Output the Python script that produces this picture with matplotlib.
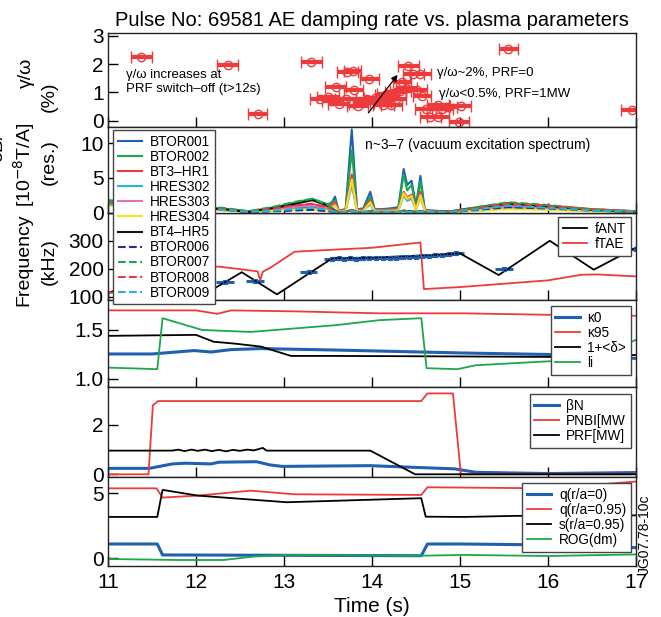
import matplotlib
matplotlib.use('Agg')
import matplotlib.pyplot as plt

plt.rcParams['font.family'] = ['Liberation Sans', 'DejaVu Sans']

# ---- panel 1: damping rate gamma/omega (%) ----
gam_t = [11.38, 12.36, 12.70, 13.31, 13.72, 13.78, 13.97, 13.59, 13.79, 14.41, 14.47, 14.55,
         14.34, 14.39, 14.51, 14.57, 13.41, 13.55, 13.70, 13.84, 13.94, 14.03, 14.13, 14.22,
         14.27, 14.18, 14.27, 14.32, 14.61, 14.75, 14.85, 15.01, 14.80, 14.66, 14.75, 14.99,
         15.55, 16.95, 13.50, 13.62, 13.90, 14.10, 14.15]
gam_v = [2.24, 1.98, 0.25, 2.09, 1.74, 1.76, 1.47, 1.19, 1.09, 1.94, 1.64, 1.64,
         1.38, 1.14, 1.09, 0.86, 0.76, 0.70, 0.76, 0.53, 0.76, 0.79, 0.55, 0.55,
         0.76, 0.94, 1.00, 1.05, 0.41, 0.55, 0.47, 0.53, 0.40, 0.12, 0.12, -0.05,
         2.55, 0.39, 0.85, 0.60, 0.62, 0.68, 0.90]
gam_err = [0.12, 0.12, 0.11, 0.12, 0.12, 0.10, 0.11, 0.12, 0.11, 0.12, 0.12, 0.12,
           0.10, 0.12, 0.12, 0.10, 0.12, 0.12, 0.12, 0.12, 0.12, 0.12, 0.12, 0.12,
           0.12, 0.12, 0.12, 0.12, 0.12, 0.12, 0.12, 0.12, 0.12, 0.12, 0.12, 0.11,
           0.11, 0.12, 0.12, 0.12, 0.12, 0.12, 0.12]

# ---- panel 2: dB/I amplitude spectra ----
t_db = [11.0, 11.5, 12.0, 12.3, 12.6, 12.9, 13.1, 13.32, 13.5, 13.58, 13.62, 13.7, 13.77,
        13.83, 13.9, 13.98, 14.03, 14.1, 14.2, 14.3, 14.36, 14.4, 14.45, 14.5, 14.55, 14.6,
        14.7, 14.9, 15.2, 15.55, 16.0, 16.5, 17.0]
btor001 = [1.8, 1.2, 0.8, 0.5, 0.1, 0.4, 0.6, 0.8, 0.5, 2.3, 0.3, 0.5, 12.0, 0.5, 0.6, 3.0, 0.5,
           0.5, 0.6, 0.8, 6.3, 4.0, 4.6, 1.0, 5.3, 0.4, 0.3, 0.1, 0.5, 0.8, 0.6, 0.3, 0.1]
btor002 = [1.6, 1.1, 0.8, 0.6, 0.2, 0.8, 1.4, 2.0, 1.2, 1.8, 0.2, 0.4, 9.0, 0.4, 0.5, 2.3, 0.4,
           0.4, 0.5, 0.6, 5.5, 3.2, 4.0, 0.8, 4.5, 0.3, 0.2, 0.2, 0.8, 1.4, 1.0, 0.5, 0.2]
bt3_hr1 = [1.4, 1.0, 0.7, 0.5, 0.1, 0.6, 1.0, 1.2, 0.8, 1.5, 0.3, 0.4, 5.5, 0.4, 0.4, 1.8, 0.4,
           0.3, 0.4, 0.5, 3.0, 2.2, 2.6, 0.6, 3.0, 0.3, 0.2, 0.1, 0.6, 1.0, 0.8, 0.4, 0.1]
hres302 = [1.3, 0.9, 0.6, 0.4, 0.1, 0.3, 0.5, 0.6, 0.4, 1.0, 0.2, 0.2, 4.0, 0.2, 0.3, 1.2, 0.2,
           0.2, 0.3, 0.3, 2.5, 1.7, 2.0, 0.4, 2.3, 0.2, 0.1, 0.1, 0.3, 0.6, 0.5, 0.3, 0.1]
hres303 = [1.2, 0.9, 0.6, 0.4, 0.1, 0.5, 0.8, 1.0, 0.6, 1.2, 0.2, 0.3, 4.5, 0.3, 0.3, 1.4, 0.3,
           0.3, 0.3, 0.4, 2.7, 1.9, 2.2, 0.5, 2.6, 0.2, 0.1, 0.1, 0.5, 0.9, 0.7, 0.3, 0.1]
hres304 = [1.0, 0.8, 0.5, 0.3, 0.1, 0.3, 0.4, 0.5, 0.3, 1.0, 0.2, 0.2, 4.8, 0.2, 0.2, 1.5, 0.2,
           0.2, 0.2, 0.3, 2.8, 2.0, 2.4, 0.4, 2.5, 0.2, 0.1, 0.1, 0.3, 0.5, 0.4, 0.2, 0.1]
bt4_hr5 = [1.5, 1.0, 0.7, 0.5, 0.1, 0.7, 1.2, 1.8, 1.0, 0.3, 0.1, 0.1, 0.4, 0.1, 0.1, 0.2, 0.1,
           0.1, 0.1, 0.1, 0.3, 0.2, 0.2, 0.1, 0.2, 0.1, 0.1, 0.2, 0.7, 1.3, 0.9, 0.4, 0.1]
btor006 = [1.3, 0.9, 0.6, 0.4, 0.1, 0.2, 0.3, 0.4, 0.2, 0.1, 0.0, 0.0, 0.2, 0.0, 0.0, 0.1, 0.0,
           0.0, 0.0, 0.0, 0.1, 0.1, 0.1, 0.0, 0.1, 0.0, 0.0, 0.1, 0.4, 0.8, 0.6, 0.3, 0.1]
btor007 = [1.7, 1.2, 0.9, 0.7, 0.2, 0.9, 1.5, 2.0, 1.1, 0.3, 0.1, 0.1, 0.4, 0.1, 0.1, 0.2, 0.1,
           0.1, 0.1, 0.1, 0.3, 0.2, 0.2, 0.1, 0.2, 0.1, 0.1, 0.2, 0.8, 1.5, 1.1, 0.5, 0.2]
btor008 = [1.4, 1.0, 0.7, 0.5, 0.1, 0.6, 1.0, 1.3, 0.7, 0.2, 0.1, 0.1, 0.3, 0.1, 0.1, 0.1, 0.1,
           0.1, 0.1, 0.1, 0.2, 0.1, 0.1, 0.1, 0.1, 0.1, 0.1, 0.2, 0.7, 1.3, 1.0, 0.5, 0.2]
btor009 = [1.2, 0.8, 0.6, 0.4, 0.1, 0.3, 0.5, 0.7, 0.4, 0.1, 0.0, 0.1, 0.2, 0.1, 0.1, 0.1, 0.1,
           0.1, 0.1, 0.1, 0.1, 0.1, 0.1, 0.1, 0.1, 0.1, 0.1, 0.1, 0.5, 1.0, 0.7, 0.3, 0.1]
db_names = ['BTOR001', 'BTOR002', 'BT3\u2013HR1', 'HRES302', 'HRES303', 'HRES304',
            'BT4\u2013HR5', 'BTOR006', 'BTOR007', 'BTOR008', 'BTOR009']
db_series = [btor001, btor002, bt3_hr1, hres302, hres303, hres304, bt4_hr5,
             btor006, btor007, btor008, btor009]
db_colors = ['#2060b0', '#1aa84a', '#ee3a3a', '#20b8d8', '#e070c0', '#f2e21a', '#111111',
             '#2a2a90', '#1aa84a', '#ee3a3a', '#20b8d8']
db_styles = ['-'] * 7 + ['--'] * 4

# ---- panel 3: frequencies (kHz) ----
fant_t = [11.0, 11.5, 12.03, 12.52, 12.92, 13.55, 14.0, 14.58, 15.0, 15.44, 16.02, 16.52, 17.0]
fant_v = [112, 190, 97, 188, 109, 238, 240, 248, 255, 178, 300, 197, 276]
ftae_t = [11.0, 11.5, 11.6, 12.0, 12.26, 12.6, 12.7, 12.73, 12.76, 12.84, 13.12, 13.6, 14.0,
          14.55, 14.59, 15.0, 15.5, 16.0, 16.38, 16.57, 17.0]
ftae_v = [115, 120, 185, 205, 208, 195, 191, 160, 190, 203, 261, 269, 275, 294, 128, 135, 147,
          159, 179, 180, 173]
fmeas_t = [12.33, 12.67, 13.28, 13.55, 13.62, 13.68, 13.75, 13.82, 13.9, 13.97, 14.05, 14.12,
           14.2, 14.27, 14.35, 14.42, 14.5, 14.57, 14.65, 14.72, 14.8, 14.88, 14.95, 15.5, 17.0]
fmeas_v = [153, 155, 187, 236, 237, 235, 238, 236, 237, 238, 239, 238, 240, 240, 242, 243, 244,
           246, 247, 249, 251, 253, 256, 200, 272]

# ---- panel 4: shape ----
k95_t = [11.0, 12.0, 12.24, 12.4, 13.12, 14.08, 15.04, 16.0, 17.0]
k95_v = [1.70, 1.70, 1.665, 1.70, 1.69, 1.67, 1.67, 1.655, 1.645]
li_t = [11.0, 11.56, 11.62, 12.07, 12.62, 13.6, 14.08, 14.56, 14.62, 14.97, 15.18, 16.0, 16.48, 17.0]
li_v = [1.116, 1.10, 1.62, 1.50, 1.48, 1.55, 1.60, 1.62, 1.11, 1.10, 1.14, 1.18, 1.19, 1.40]
dlt_t = [11.0, 12.0, 12.2, 12.45, 12.74, 13.08, 13.6, 15.0, 16.0, 17.0]
dlt_v = [1.44, 1.45, 1.38, 1.36, 1.33, 1.235, 1.235, 1.23, 1.225, 1.245]
k0_t = [11.0, 11.5, 11.98, 12.17, 12.4, 12.74, 13.6, 14.56, 15.04, 16.0, 17.0]
k0_v = [1.255, 1.255, 1.29, 1.275, 1.30, 1.31, 1.295, 1.275, 1.265, 1.25, 1.21]

# ---- panel 5: beta and heating power ----
pnbi_t = [11.0, 11.46, 11.51, 11.57, 14.56, 14.63, 14.92, 15.01, 16.95, 17.0]
pnbi_v = [0.0, 0.0, 2.8, 2.97, 2.97, 3.28, 3.28, 0.0, 0.0, 0.05]
prf_t = [11.0, 11.73, 11.8, 11.87, 11.95, 12.02, 12.1, 12.18, 12.26, 12.34, 12.42, 12.5,
         12.58, 12.66, 12.76, 12.8, 13.98, 14.49, 17.0]
prf_v = [0.96, 0.96, 1.0, 0.94, 1.0, 0.95, 1.0, 0.94, 0.99, 0.93, 0.99, 0.95, 1.0, 0.97, 1.07,
         0.96, 0.96, 0.0, 0.0]
bn_t = [11.0, 11.47, 11.73, 11.88, 12.17, 12.26, 12.69, 12.84, 12.98, 13.98, 14.56, 14.94,
        15.18, 16.0, 17.0]
bn_v = [0.24, 0.24, 0.42, 0.45, 0.42, 0.49, 0.51, 0.38, 0.32, 0.35, 0.27, 0.22, 0.08, 0.03, 0.07]

# ---- panel 6: q profile, shear, ROG ----
q95_t = [11.0, 11.55, 11.62, 12.02, 12.62, 13.12, 14.56, 14.63, 16.0, 17.0]
q95_v = [5.38, 5.38, 4.67, 4.82, 5.2, 4.92, 4.87, 5.46, 5.38, 5.9]
s95_t = [11.0, 11.56, 11.62, 12.02, 13.03, 14.56, 14.61, 15.04, 15.61, 16.3, 17.0]
s95_v = [3.18, 3.18, 5.26, 4.82, 4.31, 4.62, 3.2, 3.18, 3.26, 3.3, 3.3]
q0_t = [11.0, 11.56, 11.62, 14.56, 14.63, 15.04, 16.0, 16.48, 17.0]
q0_v = [1.1, 1.1, 0.26, 0.2, 1.1, 1.1, 1.03, 0.9, 0.82]
rog_t = [11.0, 11.8, 12.31, 12.65, 13.03, 14.56, 15.04, 16.0, 17.0]
rog_v = [-0.05, -0.13, -0.13, 0.13, 0.26, 0.2, 0.26, 0.18, 0.3]

RED = '#ee3a3a'
BLUE = '#2060b0'
GREEN = '#1aa84a'

fig = plt.figure(figsize=(6.61, 6.17), dpi=100)
W, H = 661.0, 617.0
x0, x1 = 108 / W, 636 / W
edges = [33, 127, 213, 300, 387, 477, 566]
axes = []
for i in range(6):
    top, bot = edges[i], edges[i + 1]
    ax = fig.add_axes([x0, 1 - bot / H, x1 - x0, (bot - top) / H])
    axes.append(ax)
ax1, ax2, ax3, ax4, ax5, ax6 = axes

for ax in axes:
    ax.set_xlim(11, 17)
    ax.set_xticks(range(11, 18))
    ax.tick_params(direction='in', length=7, width=1, labelsize=15, pad=3)
    ax.tick_params(axis='x', labelbottom=False)
    for s in ax.spines.values():
        s.set_linewidth(1)
        s.set_color('#222222')
ax6.tick_params(axis='x', labelbottom=True, pad=5)

leg_kw = dict(fontsize=9.8, frameon=True, fancybox=False, edgecolor='#444444',
              framealpha=1, borderaxespad=0, handlelength=1.8, labelspacing=0.08,
              handletextpad=0.55, borderpad=0.35)
LX = 0.9905

# panel 1
ax1.errorbar(gam_t, gam_v, xerr=gam_err, fmt='o', color=RED, mfc='none', mec=RED,
             ms=6, mew=1, elinewidth=3, capsize=4, capthick=1.2)
ax1.set_ylim(-0.22, 3.1)
ax1.set_yticks([0, 1, 2, 3])
ax1.annotate('', xy=(14.31, 1.70), xytext=(13.94, 0.2),
             arrowprops=dict(arrowstyle='-|>', color='black', lw=0.9, mutation_scale=9))
ax1.text(11.2, 1.37, '\u03b3/\u03c9 increases at\nPRF switch\u2013off (t>12s)', fontsize=9.5,
         va='center', ha='left', linespacing=1.2)
ax1.text(14.74, 1.68, '\u03b3/\u03c9~2%, PRF=0', fontsize=9.5, va='center')
ax1.text(14.76, 0.95, '\u03b3/\u03c9<0.5%, PRF=1MW', fontsize=9.5, va='center')

# panel 2
for name, vals, c, ls in zip(db_names, db_series, db_colors, db_styles):
    ax2.plot(t_db, vals, color=c, ls=ls, lw=1.5, label=name)
ax2.set_ylim(-0.05, 12.35)
ax2.set_yticks([0, 5, 10])
ax2.text(13.92, 9.75, 'n~3\u20137 (vacuum excitation spectrum)', fontsize=10, va='center')
ax2.legend(loc='upper left', bbox_to_anchor=(0.009, 0.965), **leg_kw)
ax2.set_zorder(3)

# panel 3
ax3.errorbar(fmeas_t, fmeas_v, xerr=0.1, fmt='s', color=BLUE, mfc='none', mec=BLUE,
             ms=3.5, mew=0.8, elinewidth=2.2, capsize=0)
ax3.plot(fant_t, fant_v, color='black', lw=1.3, label='fANT')
ax3.plot(ftae_t, ftae_v, color=RED, lw=1.3, label='fTAE')
ax3.set_ylim(89, 399)
ax3.set_yticks([100, 200, 300])
ax3.legend(loc='upper right', bbox_to_anchor=(LX, 0.954), **leg_kw)

# panel 4
ax4.plot(k0_t, k0_v, color=BLUE, lw=2.2, label='\u03ba0')
ax4.plot(k95_t, k95_v, color=RED, lw=1.3, label='\u03ba95')
ax4.plot(dlt_t, dlt_v, color='black', lw=1.3, label='1+<\u03b4>')
ax4.plot(li_t, li_v, color=GREEN, lw=1.3, label='li')
ax4.set_ylim(0.918, 1.806)
ax4.set_yticks([1.0, 1.5])
ax4.set_yticklabels(['1.0', '1.5'])
ax4.legend(loc='upper right', bbox_to_anchor=(LX, 0.931), **leg_kw)

# panel 5
ax5.plot(bn_t, bn_v, color=BLUE, lw=2.2, label='\u03b2N')
ax5.plot(pnbi_t, pnbi_v, color=RED, lw=1.3, label='PNBI[MW')
ax5.plot(prf_t, prf_v, color='black', lw=1.3, label='PRF[MW]')
ax5.set_ylim(-0.11, 3.54)
ax5.set_yticks([0, 2])
ax5.legend(loc='upper right', bbox_to_anchor=(LX, 0.922), **leg_kw)

# panel 6
ax6.plot(q0_t, q0_v, color=BLUE, lw=2.2, label='q(r/a=0)')
ax6.plot(q95_t, q95_v, color=RED, lw=1.3, label='q(r/a=0.95)')
ax6.plot(s95_t, s95_v, color='black', lw=1.3, label='s(r/a=0.95)')
ax6.plot(rog_t, rog_v, color=GREEN, lw=1.3, label='ROG(dm)')
ax6.set_ylim(-0.59, 6.25)
ax6.set_yticks([0, 5])
ax6.legend(loc='upper right', bbox_to_anchor=(LX, 0.933), **leg_kw)
ax6.set_xlabel('Time (s)', fontsize=15, labelpad=4)

# titles and side labels
fig.text(372 / W, 1 - 20 / H, 'Pulse No: 69581 AE damping rate vs. plasma parameters',
         fontsize=14.5, ha='center', va='center')
lab = dict(fontsize=14, rotation=90, ha='center', va='center')
fig.text(26 / W, 1 - 73 / H, '\u03b3/\u03c9', **lab)
fig.text(49 / W, 1 - 97 / H, '(%)', **lab)
fig.text(-2 / W, 1 - 147 / H, '\u03b4B/', **lab)
fig.text(24 / W, 1 - 165 / H, '[10$^{-8}$T/A]', **lab)
fig.text(49 / W, 1 - 162 / H, '(res.)', **lab)
fig.text(24 / W, 1 - 260 / H, 'Frequency', **lab)
fig.text(49 / W, 1 - 262 / H, '(kHz)', **lab)
fig.text(645 / W, 1 - 534 / H, 'JG07.78-10c', fontsize=10, rotation=90, ha='center', va='center')

fig.savefig('out.png', dpi=100)
